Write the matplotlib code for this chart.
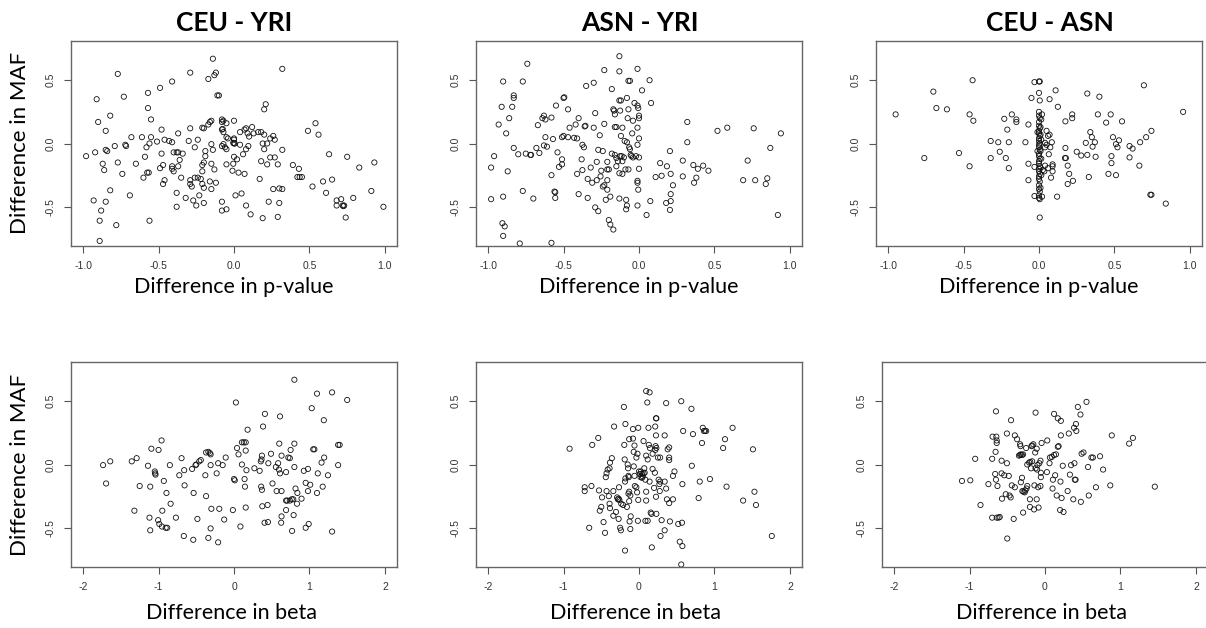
import numpy as np
import matplotlib
matplotlib.use("Agg")
import matplotlib.pyplot as plt

plt.rcParams['axes.unicode_minus'] = False

# (difference in p-value, difference in MAF)
ceu_yri_pval = [
    (-0.14, 0.67), (0.32, 0.59), (-0.77, 0.55), (-0.29, 0.56), (-0.12, 0.56), (-0.13, 0.54),
    (-0.17, 0.51), (-0.41, 0.49), (-0.49, 0.44), (-0.91, 0.35), (-0.73, 0.37), (-0.57, 0.40),
    (-0.11, 0.38), (-0.10, 0.38), (-0.57, 0.28), (-0.82, 0.22), (-0.55, 0.19), (-0.90, 0.17),
    (0.21, 0.31), (0.20, 0.27), (-0.85, 0.10), (-0.48, 0.11), (-0.29, 0.12), (-0.20, 0.12),
    (-0.21, 0.125), (-0.17, 0.15), (-0.16, 0.17), (-0.15, 0.18), (-0.08, 0.19), (-0.07, 0.18),
    (-0.08, 0.17), (-0.05, 0.16), (0.0, 0.18), (-0.08, 0.11), (-0.075, 0.115), (-0.07, 0.09),
    (0.04, 0.09), (0.07, 0.11), (0.08, 0.12), (0.09, 0.08), (0.10, 0.055), (0.12, 0.13),
    (0.13, 0.08), (0.16, 0.09), (0.18, 0.09), (0.20, 0.07), (0.26, 0.06), (0.27, 0.03),
    (0.24, 0.04), (0.49, 0.10), (0.54, 0.16), (0.56, 0.07), (-0.68, 0.05), (-0.61, 0.05),
    (-0.55, 0.05), (-0.72, -0.01), (-0.715, -0.02), (-0.79, -0.02), (-0.98, -0.10), (-0.92, -0.07),
    (-0.84, -0.06), (-0.85, -0.05), (-0.87, -0.16), (-0.86, -0.21), (-0.77, -0.15), (-0.65, -0.16),
    (-0.74, -0.24), (-0.60, -0.27), (-0.59, -0.105), (-0.58, -0.03), (-0.56, 0.0), (-0.575, -0.23),
    (-0.565, -0.23), (-0.51, 0.015), (-0.46, 0.03), (-0.43, 0.02), (-0.41, 0.01), (-0.48, -0.08),
    (-0.49, -0.195), (-0.47, -0.17), (-0.47, -0.32), (-0.46, -0.29), (-0.37, 0.08), (-0.40, -0.07),
    (-0.38, -0.07), (-0.37, -0.07), (-0.34, -0.08), (-0.36, -0.13), (-0.41, -0.18), (-0.41, -0.20),
    (-0.40, -0.22), (-0.37, -0.18), (-0.35, -0.27), (-0.30, 0.02), (-0.26, -0.03), (-0.24, 0.03),
    (-0.19, -0.10), (-0.19, -0.06), (-0.15, -0.005), (-0.14, -0.05), (-0.21, -0.17), (-0.20, -0.15),
    (-0.21, -0.22), (-0.15, -0.16), (-0.13, -0.205), (-0.29, -0.29), (-0.29, -0.32), (-0.28, -0.34),
    (-0.26, -0.27), (-0.24, -0.27), (-0.22, -0.28), (-0.21, -0.32), (-0.20, -0.35), (-0.16, -0.30),
    (-0.12, -0.31), (-0.15, -0.36), (-0.32, -0.43), (-0.27, -0.45), (-0.25, -0.49), (-0.23, -0.41),
    (-0.20, -0.47), (-0.38, -0.39), (-0.38, -0.50), (-0.69, -0.41), (-0.82, -0.37), (-0.93, -0.45),
    (-0.85, -0.46), (-0.88, -0.53), (-0.89, -0.61), (-0.78, -0.645), (-0.56, -0.61), (-0.89, -0.77),
    (-0.08, -0.02), (-0.07, -0.005), (-0.06, -0.03), (-0.05, -0.045), (-0.05, 0.05), (-0.04, 0.04),
    (0.0, 0.0), (-0.005, 0.005), (0.005, 0.0), (0.0, 0.03), (0.0, 0.04), (0.0, -0.105),
    (-0.005, -0.16), (-0.01, -0.215), (0.02, -0.125), (-0.05, -0.165), (0.01, -0.41), (-0.08, -0.46),
    (-0.08, -0.53), (-0.05, -0.52), (0.03, -0.23), (0.07, -0.24), (0.05, -0.395), (0.08, -0.49),
    (0.11, -0.56), (0.19, -0.59), (0.04, -0.01), (0.06, -0.085), (0.08, -0.045), (0.095, -0.02),
    (0.18, -0.14), (0.20, -0.045), (0.19, 0.0), (0.22, 0.0), (0.24, -0.11), (0.22, -0.165),
    (0.17, -0.28), (0.27, -0.11), (0.29, -0.165), (0.32, -0.05), (0.30, -0.355), (0.32, -0.36),
    (0.26, -0.36), (0.23, -0.46), (0.30, -0.47), (0.29, -0.58), (0.39, -0.17), (0.43, -0.20),
    (0.42, -0.265), (0.435, -0.265), (0.45, -0.265), (0.52, -0.34), (0.59, -0.30), (0.61, -0.39),
    (0.65, -0.285), (0.63, -0.085), (0.75, -0.105), (0.83, -0.19), (0.93, -0.15), (0.91, -0.375),
    (0.79, -0.43), (0.71, -0.44), (0.68, -0.45), (0.68, -0.49), (0.72, -0.49), (0.73, -0.49),
    (0.725, -0.495), (0.74, -0.585), (0.99, -0.50),
]

asn_yri_pval = [
    (-0.13, 0.69), (-0.74, 0.63), (-0.23, 0.58), (-0.13, 0.57), (-0.01, 0.59), (-0.90, 0.49),
    (-0.77, 0.49), (-0.30, 0.48), (-0.07, 0.495), (-0.06, 0.495), (0.07, 0.50), (-0.35, 0.455),
    (-0.18, 0.43), (0.02, 0.42), (-0.83, 0.38), (-0.83, 0.36), (-0.50, 0.36), (-0.495, 0.365),
    (-0.91, 0.29), (-0.84, 0.29), (-0.55, 0.30), (-0.47, 0.27), (-0.29, 0.24), (-0.13, 0.34),
    (-0.12, 0.34), (-0.125, 0.26), (-0.17, 0.27), (-0.165, 0.26), (-0.08, 0.36), (-0.03, 0.32),
    (-0.01, 0.30), (-0.005, 0.28), (0.08, 0.32), (-0.86, 0.20), (-0.64, 0.20), (-0.63, 0.22),
    (-0.62, 0.19), (-0.58, 0.205), (-0.40, 0.20), (-0.93, 0.15), (-0.67, 0.145), (-0.42, 0.15),
    (-0.36, 0.135), (-0.355, 0.14), (-0.30, 0.125), (-0.23, 0.155), (-0.16, 0.23), (-0.16, 0.13),
    (-0.15, 0.13), (-0.11, 0.125), (-0.07, 0.27), (-0.075, 0.20), (-0.04, 0.18), (-0.01, 0.125),
    (0.0, 0.20), (0.0, 0.22), (-0.12, 0.06), (-0.045, 0.08), (-0.46, 0.125), (-0.88, 0.08),
    (-0.62, 0.05), (-0.51, 0.05), (-0.50, 0.06), (-0.47, 0.05), (-0.43, 0.045), (-0.41, 0.04),
    (-0.57, 0.035), (-0.26, 0.065), (0.0, 0.04), (-0.01, -0.01), (-0.96, -0.10), (-0.98, -0.19),
    (-0.83, -0.035), (-0.87, -0.22), (-0.80, -0.085), (-0.75, -0.08), (-0.72, -0.09), (-0.715, -0.09),
    (-0.68, -0.035), (-0.66, -0.075), (-0.63, -0.015), (-0.61, -0.025), (-0.54, -0.07), (-0.51, -0.125),
    (-0.51, -0.165), (-0.53, -0.185), (-0.58, -0.25), (-0.375, -0.01), (-0.365, -0.03), (-0.38, -0.125),
    (-0.375, -0.21), (-0.41, -0.24), (-0.34, -0.28), (-0.32, -0.19), (-0.31, -0.31), (-0.28, -0.29),
    (-0.28, -0.145), (-0.27, -0.05), (-0.24, -0.06), (-0.25, -0.215), (-0.255, -0.26), (-0.24, -0.34),
    (-0.23, -0.33), (-0.21, -0.145), (-0.21, -0.205), (-0.20, -0.205), (-0.18, -0.08), (-0.16, -0.09),
    (-0.15, -0.18), (-0.15, -0.115), (-0.14, -0.14), (-0.125, -0.10), (-0.115, -0.10), (-0.10, -0.11),
    (-0.11, -0.14), (-0.13, -0.235), (-0.11, -0.24), (-0.09, -0.205), (-0.07, -0.205), (-0.095, 0.02),
    (-0.08, 0.01), (-0.065, -0.03), (-0.06, -0.045), (-0.055, -0.09), (-0.05, -0.10), (-0.04, -0.11),
    (-0.02, -0.10), (0.0, -0.11), (0.0, -0.20), (-0.01, -0.295), (-0.01, -0.31), (-0.005, -0.365),
    (-0.01, -0.49), (-0.21, -0.29), (-0.21, -0.365), (-0.19, -0.42), (-0.22, -0.445), (-0.34, -0.43),
    (-0.40, -0.40), (-0.56, -0.38), (-0.555, -0.385), (-0.555, -0.43), (-0.77, -0.375), (-0.70, -0.435),
    (-0.98, -0.44), (-0.90, -0.42), (-0.29, -0.505), (-0.27, -0.535), (-0.20, -0.605), (-0.19, -0.64),
    (-0.17, -0.68), (-0.13, -0.435), (-0.085, -0.445), (-0.08, -0.49), (-0.085, -0.52), (-0.905, -0.63),
    (-0.89, -0.655), (-0.90, -0.73), (-0.79, -0.79), (-0.58, -0.785), (0.05, -0.565), (0.075, -0.455),
    (0.11, -0.265), (0.15, -0.255), (0.14, -0.155), (0.185, -0.18), (0.205, -0.06), (0.21, -0.24),
    (0.225, -0.33), (0.21, -0.40), (0.21, -0.455), (0.18, -0.47), (0.205, -0.525), (0.29, -0.135),
    (0.29, -0.26), (0.32, 0.17), (0.32, 0.01), (0.36, -0.17), (0.365, -0.31), (0.38, -0.27),
    (0.39, -0.20), (0.425, -0.175), (0.46, -0.215), (0.52, 0.10), (0.585, 0.125), (0.69, -0.29),
    (0.72, -0.135), (0.76, 0.12), (0.77, -0.29), (0.84, -0.32), (0.85, -0.275), (0.87, -0.035),
    (0.94, 0.08), (0.92, -0.565),
]

ceu_asn_pval = [
    (-0.95, 0.23), (-0.70, 0.41), (-0.68, 0.28), (-0.61, 0.27), (-0.44, 0.50), (-0.46, 0.23),
    (-0.435, 0.18), (-0.76, -0.115), (-0.53, -0.075), (-0.46, -0.18), (-0.32, 0.02), (-0.32, -0.115),
    (-0.27, 0.01), (-0.26, -0.065), (-0.23, 0.195), (-0.21, 0.11), (-0.20, 0.01), (-0.20, -0.195),
    (-0.22, -0.115), (-0.18, 0.23), (-0.15, 0.19), (-0.15, 0.17), (-0.09, 0.01), (-0.07, 0.15),
    (-0.05, 0.36), (-0.03, 0.485), (0.0, 0.49), (0.005, 0.49), (0.0, 0.40), (0.005, 0.34),
    (0.07, 0.35), (0.11, 0.42), (0.125, 0.29), (-0.07, -0.16), (-0.07, -0.29), (-0.03, -0.185),
    (-0.03, -0.415), (0.0, 0.25), (0.0, 0.22), (0.005, 0.20), (0.0, 0.17), (0.0, 0.14),
    (0.005, 0.12), (0.0, 0.10), (0.0, 0.08), (0.005, 0.06), (0.0, 0.04), (0.0, 0.02),
    (0.005, 0.0), (0.0, -0.01), (0.0, -0.03), (0.005, -0.05), (0.0, -0.08), (0.0, -0.10),
    (0.005, -0.12), (0.0, -0.14), (0.0, -0.16), (0.005, -0.18), (0.0, -0.20), (0.0, -0.22),
    (0.005, -0.24), (0.0, -0.26), (0.0, -0.28), (0.005, -0.30), (0.0, -0.33), (0.0, -0.36),
    (0.005, -0.38), (0.0, -0.41), (0.0, -0.43), (0.005, -0.44), (0.01, 0.13), (0.01, 0.07),
    (0.015, 0.03), (0.01, -0.06), (0.015, -0.12), (0.01, -0.19), (0.015, -0.25), (0.01, -0.35),
    (0.02, -0.42), (-0.01, -0.06), (-0.01, 0.09), (0.005, -0.585), (0.02, 0.23), (0.015, 0.19),
    (0.04, 0.005), (0.05, -0.01), (0.04, -0.03), (0.05, 0.10), (0.06, 0.06), (0.07, 0.07),
    (0.065, -0.085), (0.075, -0.03), (0.085, 0.01), (0.09, -0.165), (0.09, -0.18), (0.04, -0.175),
    (0.035, -0.22), (0.025, -0.21), (0.06, -0.195), (0.08, -0.27), (0.09, -0.22), (0.12, -0.42),
    (0.175, 0.175), (0.175, -0.035), (0.172, -0.115), (0.178, -0.115), (0.19, -0.175), (0.20, -0.24),
    (0.19, -0.32), (0.22, 0.23), (0.22, 0.20), (0.225, -0.295), (0.25, -0.065), (0.28, -0.095),
    (0.31, 0.005), (0.32, 0.395), (0.32, -0.09), (0.33, -0.265), (0.34, 0.09), (0.35, 0.05),
    (0.355, -0.025), (0.37, 0.01), (0.375, -0.105), (0.40, 0.37), (0.39, 0.23), (0.445, 0.165),
    (0.46, -0.24), (0.475, 0.23), (0.48, -0.10), (0.48, -0.155), (0.49, 0.05), (0.51, -0.005),
    (0.52, -0.03), (0.53, 0.025), (0.51, -0.25), (0.55, 0.175), (0.60, -0.02), (0.62, -0.04),
    (0.60, -0.11), (0.665, -0.175), (0.67, 0.01), (0.695, 0.46), (0.71, 0.05), (0.745, 0.10),
    (0.738, -0.405), (0.745, -0.405), (0.84, -0.475), (0.955, 0.25),
]

# (difference in beta, difference in MAF)
ceu_yri_beta = [
    (-1.735, -0.005), (-1.695, -0.15), (-1.64, 0.025), (-1.355, 0.025), (-1.29, 0.05), (-1.32, -0.365),
    (-1.25, -0.17), (-1.14, -0.01), (-1.12, -0.42), (-1.11, -0.52), (-1.11, -0.175), (-1.095, 0.125),
    (-1.05, -0.055), (-1.045, -0.07), (-1.04, -0.08), (-1.005, -0.44), (-1.00, 0.115), (-0.99, -0.47),
    (-0.96, 0.19), (-0.955, -0.49), (-0.95, -0.365), (-0.93, -0.13), (-0.905, -0.50), (-0.885, -0.50),
    (-0.895, -0.225), (-0.85, -0.005), (-0.84, -0.31), (-0.77, -0.42), (-0.725, -0.085), (-0.695, 0.05),
    (-0.665, -0.565), (-0.66, -0.045), (-0.655, -0.165), (-0.54, -0.595), (-0.535, -0.225), (-0.555, -0.035),
    (-0.51, -0.005), (-0.50, 0.0), (-0.485, -0.43), (-0.46, 0.025), (-0.44, 0.035), (-0.38, -0.085),
    (-0.37, -0.25), (-0.37, 0.095), (-0.34, 0.10), (-0.32, 0.09), (-0.31, 0.08), (-0.31, -0.005),
    (-0.34, -0.58), (-0.31, -0.505), (-0.30, -0.35), (-0.21, 0.01), (-0.23, -0.07), (-0.21, -0.615),
    (-0.195, -0.35), (-0.15, -0.005), (-0.13, -0.435), (-0.11, 0.055), (-0.015, -0.36), (0.0, -0.115),
    (0.01, -0.125), (0.025, 0.49), (0.04, 0.13), (0.06, 0.08), (0.085, -0.49), (0.105, 0.0),
    (0.105, 0.175), (0.13, 0.175), (0.155, 0.175), (0.155, 0.11), (0.165, -0.045), (0.14, -0.115),
    (0.145, -0.175), (0.155, -0.34), (0.18, 0.275), (0.27, -0.03), (0.34, -0.05), (0.355, 0.025),
    (0.365, 0.04), (0.37, 0.07), (0.36, -0.175), (0.37, -0.20), (0.385, 0.30), (0.41, 0.40),
    (0.375, -0.33), (0.405, -0.46), (0.45, -0.455), (0.445, -0.32), (0.455, 0.01), (0.49, 0.085),
    (0.51, -0.15), (0.555, -0.02), (0.565, -0.21), (0.585, 0.01), (0.595, -0.04), (0.61, -0.07),
    (0.61, 0.38), (0.60, 0.165), (0.63, 0.07), (0.63, -0.21), (0.63, -0.41), (0.625, -0.46),
    (0.69, -0.06), (0.69, -0.285), (0.705, -0.285), (0.69, -0.36), (0.72, 0.055), (0.74, 0.05),
    (0.75, 0.115), (0.74, -0.285), (0.765, -0.275), (0.785, -0.275), (0.77, -0.525), (0.79, -0.40),
    (0.80, 0.67), (0.80, 0.165), (0.80, -0.02), (0.815, -0.19), (0.84, -0.225), (0.835, -0.31),
    (0.895, -0.27), (0.925, -0.05), (0.95, -0.50), (0.95, -0.145), (0.98, -0.21), (0.98, -0.035),
    (0.99, -0.47), (1.01, -0.16), (1.03, 0.445), (1.05, 0.12), (1.065, 0.12), (1.10, 0.56),
    (1.11, -0.07), (1.10, -0.225), (1.16, 0.015), (1.175, -0.175), (1.19, 0.35), (1.195, 0.055),
    (1.245, -0.085), (1.30, 0.57), (1.30, -0.53), (1.38, 0.155), (1.40, 0.155), (1.38, -0.005),
    (1.50, 0.51),
]

asn_yri_beta = [
    (-0.92, 0.125), (-0.72, -0.18), (-0.72, -0.21), (-0.66, -0.50), (-0.63, -0.17), (-0.62, 0.155),
    (-0.54, 0.21), (-0.53, -0.205), (-0.52, -0.365), (-0.50, -0.335), (-0.49, -0.26), (-0.47, -0.455),
    (-0.45, -0.54), (-0.44, -0.10), (-0.43, -0.07), (-0.415, -0.04), (-0.39, -0.03), (-0.385, 0.015),
    (-0.43, -0.21), (-0.40, -0.25), (-0.39, -0.31), (-0.385, -0.345), (-0.36, 0.05), (-0.34, -0.21),
    (-0.34, -0.405), (-0.305, -0.375), (-0.33, 0.30), (-0.29, -0.26), (-0.28, -0.275), (-0.27, -0.27),
    (-0.26, -0.28), (-0.265, -0.18), (-0.27, -0.43), (-0.25, -0.50), (-0.24, -0.52), (-0.235, -0.31),
    (-0.21, -0.32), (-0.20, 0.455), (-0.195, 0.155), (-0.19, 0.04), (-0.185, -0.135), (-0.18, -0.11),
    (-0.18, 0.32), (-0.185, -0.68), (-0.16, -0.335), (-0.15, 0.0), (-0.145, -0.03), (-0.14, -0.09),
    (-0.135, -0.10), (-0.14, -0.23), (-0.13, -0.215), (-0.115, -0.245), (-0.13, 0.20), (-0.08, 0.205),
    (-0.13, -0.29), (-0.125, -0.45), (-0.115, -0.51), (-0.11, -0.41), (-0.08, 0.28), (-0.01, 0.29),
    (-0.07, 0.10), (-0.06, 0.15), (-0.07, -0.015), (-0.06, -0.09), (-0.055, -0.17), (-0.035, -0.18),
    (-0.025, -0.22), (-0.035, 0.055), (-0.02, 0.085), (-0.01, -0.28), (-0.015, -0.445), (0.0, -0.055),
    (0.01, -0.075), (0.025, -0.055), (0.04, -0.075), (0.06, -0.07), (0.02, -0.10), (0.04, -0.105),
    (0.05, -0.095), (0.075, -0.065), (0.085, -0.12), (0.06, 0.185), (0.07, -0.03), (0.085, -0.445),
    (0.115, -0.445), (0.095, -0.215), (0.095, -0.285), (0.095, 0.07), (0.115, 0.04), (0.095, 0.58),
    (0.14, 0.57), (0.11, 0.49), (0.125, 0.29), (0.13, 0.155), (0.145, 0.13), (0.14, -0.135),
    (0.155, -0.38), (0.165, -0.39), (0.17, -0.655), (0.18, 0.085), (0.18, -0.035), (0.20, -0.185),
    (0.21, -0.065), (0.225, 0.365), (0.23, 0.365), (0.215, 0.30), (0.225, 0.23), (0.22, 0.145),
    (0.23, 0.13), (0.215, 0.115), (0.225, -0.255), (0.23, -0.39), (0.25, 0.055), (0.28, 0.055),
    (0.26, -0.12), (0.28, -0.135), (0.27, -0.155), (0.275, -0.21), (0.285, -0.565), (0.30, -0.44),
    (0.34, 0.23), (0.36, 0.485), (0.34, -0.135), (0.36, -0.19), (0.34, -0.52), (0.37, -0.275),
    (0.40, -0.305), (0.38, 0.12), (0.40, 0.135), (0.40, 0.055), (0.40, 0.035), (0.41, -0.45),
    (0.45, -0.275), (0.45, -0.09), (0.47, -0.055), (0.52, -0.47), (0.54, -0.61), (0.56, 0.50),
    (0.57, -0.46), (0.575, -0.645), (0.56, -0.79), (0.585, 0.265), (0.575, -0.155), (0.695, 0.44),
    (0.70, -0.01), (0.715, 0.24), (0.79, -0.265), (0.805, -0.135), (0.835, 0.17), (0.845, 0.29),
    (0.86, 0.265), (0.875, 0.265), (0.89, 0.265), (0.94, -0.115), (1.115, 0.13), (1.14, 0.20),
    (1.16, -0.175), (1.24, 0.29), (1.38, -0.285), (1.51, 0.12), (1.53, -0.215), (1.55, -0.32),
    (1.76, -0.565),
]

ceu_asn_beta = [
    (-1.10, -0.13), (-0.99, -0.125), (-0.925, 0.045), (-0.855, -0.32), (-0.75, -0.155), (-0.70, 0.045),
    (-0.70, -0.42), (-0.64, -0.42), (-0.615, -0.42), (-0.60, -0.415), (-0.695, 0.22), (-0.645, 0.22),
    (-0.65, 0.42), (-0.655, 0.10), (-0.64, 0.19), (-0.64, 0.17), (-0.66, -0.075), (-0.65, -0.12),
    (-0.63, -0.17), (-0.575, 0.03), (-0.575, -0.07), (-0.57, -0.27), (-0.54, -0.085), (-0.52, -0.235),
    (-0.505, 0.245), (-0.505, 0.01), (-0.50, -0.585), (-0.48, -0.09), (-0.47, -0.245), (-0.455, -0.26),
    (-0.45, 0.35), (-0.44, -0.165), (-0.415, -0.43), (-0.40, -0.18), (-0.40, 0.23), (-0.37, 0.20),
    (-0.345, 0.07), (-0.33, 0.075), (-0.32, 0.08), (-0.305, 0.075), (-0.29, 0.08), (-0.33, 0.16),
    (-0.325, 0.145), (-0.32, -0.14), (-0.30, -0.21), (-0.285, -0.215), (-0.27, -0.22), (-0.26, -0.205),
    (-0.245, -0.19), (-0.235, -0.17), (-0.29, -0.38), (-0.305, -0.105), (-0.25, 0.13), (-0.235, 0.0),
    (-0.21, 0.015), (-0.195, 0.02), (-0.17, 0.025), (-0.20, -0.275), (-0.20, -0.335), (-0.185, -0.03),
    (-0.18, 0.145), (-0.155, 0.16), (-0.17, 0.15), (-0.145, -0.355), (-0.14, -0.165), (-0.125, 0.41),
    (-0.125, -0.03), (-0.105, -0.04), (-0.13, 0.095), (-0.11, -0.275), (-0.11, 0.125), (-0.10, -0.005),
    (-0.075, 0.01), (-0.09, -0.18), (-0.06, -0.17), (-0.085, -0.34), (-0.06, 0.03), (-0.055, -0.10),
    (-0.045, 0.17), (-0.055, -0.065), (0.03, 0.19), (0.025, -0.06), (0.06, 0.01), (0.065, 0.055),
    (0.09, 0.06), (0.12, 0.075), (0.145, 0.08), (0.10, -0.19), (0.105, -0.12), (0.12, 0.40),
    (0.135, -0.085), (0.155, -0.245), (0.17, 0.14), (0.18, 0.145), (0.17, 0.365), (0.21, 0.345),
    (0.21, 0.23), (0.205, -0.135), (0.22, -0.265), (0.20, -0.36), (0.245, -0.375), (0.235, -0.01),
    (0.315, 0.245), (0.30, -0.21), (0.33, -0.08), (0.345, -0.005), (0.39, 0.01), (0.375, -0.275),
    (0.385, 0.29), (0.41, 0.32), (0.395, -0.12), (0.405, -0.12), (0.415, 0.265), (0.435, 0.455),
    (0.47, 0.395), (0.475, -0.295), (0.485, 0.085), (0.51, 0.095), (0.55, 0.495), (0.57, -0.02),
    (0.58, -0.245), (0.615, 0.055), (0.635, 0.055), (0.675, -0.18), (0.73, 0.065), (0.77, -0.04),
    (0.865, -0.165), (0.885, 0.23), (1.115, 0.165), (1.165, 0.21), (1.455, -0.175),
]

titles = ["CEU - YRI", "ASN - YRI", "CEU - ASN"]
title_x = [234, 640, 1050]
top_data = [ceu_yri_pval, asn_yri_pval, ceu_asn_pval]
bottom_data = [ceu_yri_beta, asn_yri_beta, ceu_asn_beta]
pval_ticks = [-1.0, -0.5, 0.0, 0.5, 1.0]
beta_ticks = [-2, -1, 0, 1, 2]
maf_ticks = [-0.5, 0.0, 0.5]

W, H = 1206, 628
fig = plt.figure(figsize=(W / 100, H / 100), dpi=100)

label_font = "Lato"
tick_font = "Liberation Sans"


def make_axes(left, top, width=326, height=205):
    return fig.add_axes([left / W, 1 - (top + height) / H, width / W, height / H])


def style_axes(ax, xlim, xticks, xfmt):
    ax.set_xlim(*xlim)
    ax.set_ylim(-0.81, 0.81)
    ax.set_xticks(xticks)
    ax.set_xticklabels([xfmt.format(t) for t in xticks], fontfamily=tick_font, fontsize=7.5, color="#333333")
    ax.set_yticks(maf_ticks)
    ax.set_yticklabels([f"{t:.1f}" for t in maf_ticks], fontfamily=tick_font, fontsize=7.5,
                       color="#333333", rotation=90, va="center")
    ax.tick_params(direction="out", length=5, width=0.8, color="#555555", pad=6)
    for s in ax.spines.values():
        s.set_color("#666666")
        s.set_linewidth(1.0)


def scatter(ax, pts):
    arr = np.array(pts)
    ax.scatter(arr[:, 0], arr[:, 1], s=14, facecolors="none", edgecolors="#111111", linewidths=0.6)


top_lefts = [71, 476, 876]
bottom_lefts = [71, 476, 882]

for i in range(3):
    ax = make_axes(top_lefts[i], 41)
    scatter(ax, top_data[i])
    style_axes(ax, (-1.08, 1.08), pval_ticks, "{:.1f}")
    fig.text(title_x[i] / W, 1 - 23 / H, titles[i], ha="center", va="center",
             fontsize=19, fontweight="bold", fontfamily=label_font)
    fig.text((top_lefts[i] + 163) / W, 1 - 287 / H, "Difference in p-value", ha="center",
             va="center", fontsize=15.5, fontfamily=label_font)

    ax = make_axes(bottom_lefts[i], 362)
    scatter(ax, bottom_data[i])
    style_axes(ax, (-2.16, 2.16), beta_ticks, "{:d}")
    fig.text((bottom_lefts[i] + 160) / W, 1 - 613 / H, "Difference in beta", ha="center",
             va="center", fontsize=15.5, fontfamily=label_font)

fig.text(20 / W, 1 - 143 / H, "Difference in MAF", rotation=90, ha="center", va="center",
         fontsize=16, fontfamily=label_font)
fig.text(20 / W, 1 - 465 / H, "Difference in MAF", rotation=90, ha="center", va="center",
         fontsize=16, fontfamily=label_font)

fig.savefig("out.png", dpi=100)
